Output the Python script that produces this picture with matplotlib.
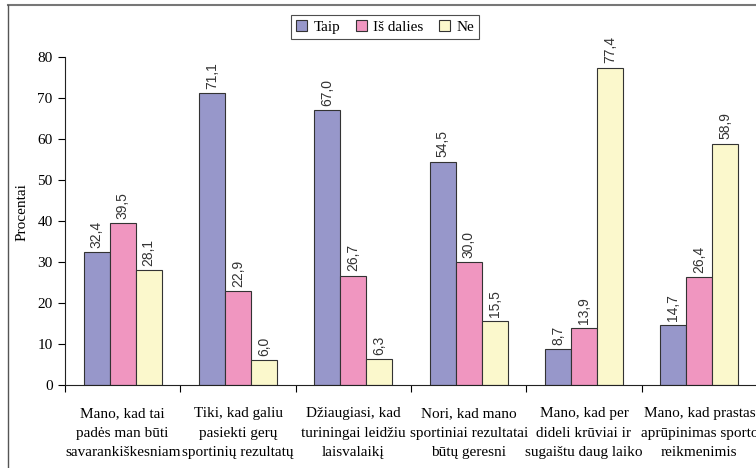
import matplotlib
matplotlib.use("Agg")
import matplotlib.pyplot as plt
import numpy as np
from matplotlib.lines import Line2D

categories = [
    "Mano, kad tai\npadės man būti\nsavarankiškesniam",
    "Tiki, kad galiu\npasiekti gerų\nsportinių rezultatų",
    "Džiaugiasi, kad\nturiningai leidžiu\nlaisvalaikį",
    "Nori, kad mano\nsportiniai rezultatai\nbūtų geresni",
    "Mano, kad per\ndideli krūviai ir\nsugaištu daug laiko",
    "Mano, kad prastas\naprūpinimas sporto\nreikmenimis",
]
series_names = ["Taip", "Iš dalies", "Ne"]
taip = [32.4, 71.1, 67.0, 54.5, 8.7, 14.7]
is_dalies = [39.5, 22.9, 26.7, 30.0, 13.9, 26.4]
ne = [28.1, 6.0, 6.3, 15.5, 77.4, 58.9]
y_ticks = [0, 10, 20, 30, 40, 50, 60, 70, 80]

colors = ["#9797CA", "#F096C0", "#FBF8CC"]
serif = ["Liberation Serif", "DejaVu Serif"]
sans = ["Liberation Sans", "DejaVu Sans"]

fig = plt.figure(figsize=(7.56, 4.68), dpi=100)
ax = fig.add_axes([65 / 756, 1 - 385 / 468, 692 / 756, (385 - 57) / 468])

n = len(categories)
x = np.arange(n)
width = 0.225
all_series = [taip, is_dalies, ne]
for i, (vals, name, c) in enumerate(zip(all_series, series_names, colors)):
    pos = x + (i - 1) * width
    ax.bar(pos, vals, width, color=c, edgecolor="#333333", linewidth=0.8,
           label=name, zorder=2)
    for px, v in zip(pos, vals):
        ax.annotate(f"{v:.1f}".replace(".", ","), (px, v), xytext=(0, 3),
                    textcoords="offset points", rotation=90, ha="center",
                    va="bottom", fontsize=10, family=sans, color="#333333")

ax.set_xlim(-0.5, n - 0.5)
ax.set_ylim(0, 80)
ax.set_yticks(y_ticks)
ax.set_yticklabels([str(t) for t in y_ticks], family=serif, fontsize=11)
ax.tick_params(axis="y", direction="out", length=5, width=0.8, pad=4)

# group separators as major ticks, category names on minor ticks
ax.set_xticks(np.arange(n + 1) - 0.5)
ax.set_xticklabels([])
ax.tick_params(axis="x", which="major", direction="out", length=5, width=0.8)
ax.set_xticks(x, minor=True)
ax.set_xticklabels(categories, minor=True, family=serif, fontsize=11,
                   linespacing=1.65)
ax.tick_params(axis="x", which="minor", length=0, pad=16)

for s in ["top", "right"]:
    ax.spines[s].set_visible(False)
for s in ["left", "bottom"]:
    ax.spines[s].set_linewidth(0.8)
    ax.spines[s].set_color("#222222")

ax.set_ylabel("Procentai", family=serif, fontsize=11)
ax.yaxis.set_label_coords(-36 / 692, 0.527)

leg = ax.legend(loc="center", bbox_to_anchor=(385 / 756, 1 - 27 / 468),
                bbox_transform=fig.transFigure, ncol=3, frameon=True,
                fancybox=False, prop={"family": serif, "size": 11},
                handlelength=0.75, handleheight=0.75, handletextpad=0.4,
                columnspacing=1.0, borderpad=0.35, borderaxespad=0)
leg.get_frame().set_edgecolor("#222222")
leg.get_frame().set_linewidth(0.8)

# outer frame of the chart area
fig.add_artist(Line2D([8 / 756, 1.0], [1 - 5 / 468, 1 - 5 / 468],
                      transform=fig.transFigure, color="#777777", linewidth=1.5))
fig.add_artist(Line2D([8 / 756, 8 / 756], [0, 1 - 5 / 468],
                      transform=fig.transFigure, color="#555555", linewidth=1.0))

fig.savefig("out.png", dpi=100)
